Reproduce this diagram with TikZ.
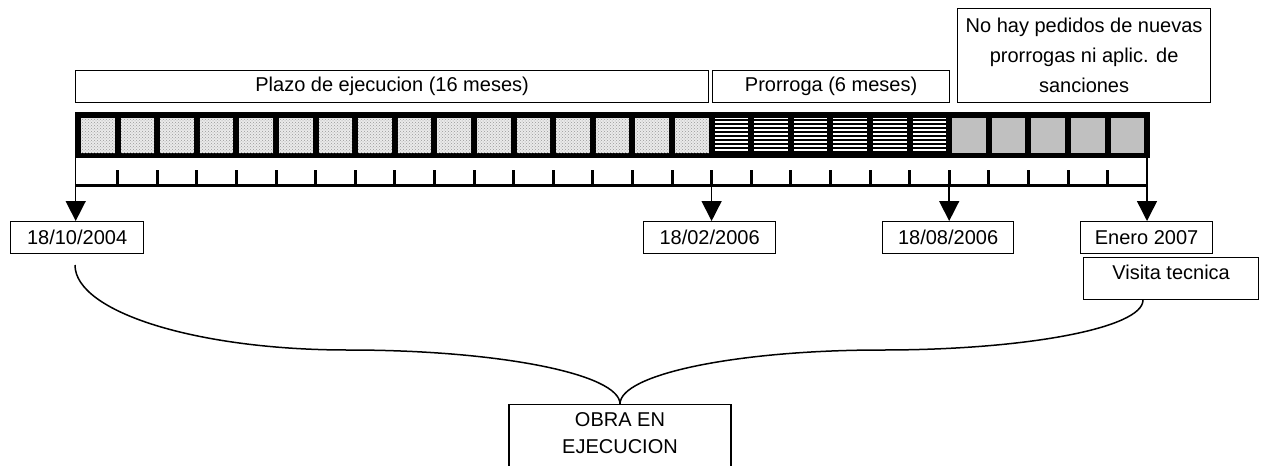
\documentclass[tikz,border=0pt]{standalone}
\usepackage{fontspec}
\setmainfont{Liberation Sans}
\usetikzlibrary{arrows.meta,patterns}
\definecolor{cellgrey}{HTML}{C0C0C0}
\definecolor{dotbg}{HTML}{EAEAEA}
\begin{document}
\begin{tikzpicture}[x=1pt,y=-1pt,
  box/.style={draw, line width=1.2pt, inner sep=0pt, align=center, font=\fontsize{20}{24}\selectfont},
  arr/.style={line width=1.5pt, -{Triangle[length=20pt,width=20pt]}},
  tickmark/.style={line width=3pt},
  thinline/.style={line width=1.5pt},
  brace/.style={line width=1.5pt}]
\useasboundingbox (0,0) rectangle (1262,466);
\clip (0,0) rectangle (1262,466);
% top labels
\node[box, anchor=north west, minimum width=633pt, minimum height=32pt] (plazo) at (75,70) {Plazo de ejecucion (16 meses)};
\node[box, anchor=north west, minimum width=237pt, minimum height=32pt] (prorroga) at (712,70) {Prorroga (6 meses)};
\node[box, anchor=north west, minimum width=253pt, minimum height=94pt, font=\fontsize{20}{30}\selectfont] (nohay) at (957,8) {No hay pedidos de nuevas\\prorrogas ni aplic. de\\sanciones};
% bar
\fill[black] (75,112) rectangle (1150,158);
\foreach \i in {0,...,15} {
  \fill[dotbg] ({81+\i*39.6},118) rectangle ({75+(\i+1)*39.6},153);
  \fill[pattern=crosshatch dots, pattern color=gray!80] ({81+\i*39.6},118) rectangle ({75+(\i+1)*39.6},153);
}
\foreach \i in {16,...,21} {
  \fill[white] ({81+\i*39.6},118) rectangle ({75+(\i+1)*39.6},153);
  \foreach \y in {120,124,...,152}
    \draw[line width=1.5pt] ({81+\i*39.6},\y) -- ({75+(\i+1)*39.6},\y);
}
\foreach \i in {22,...,26}
  \fill[cellgrey] ({81+\i*39.6},118) rectangle ({75+(\i+1)*39.6},153);
% tick row
\draw[line width=3pt] (75,185) -- (1148,185);
\foreach \i in {1,...,26}
  \draw[tickmark] ({78+\i*39.6},170) -- ({78+\i*39.6},185);
% date boxes
\node[box, anchor=north west, minimum width=133pt, minimum height=32pt] (d1) at (10,221) {18/10/2004};
\node[box, anchor=north west, minimum width=132pt, minimum height=32pt] (d2) at (643,221) {18/02/2006};
\node[box, anchor=north west, minimum width=131pt, minimum height=32pt] (d3) at (882,221) {18/08/2006};
\node[box, anchor=north west, minimum width=132pt, minimum height=32pt] (d4) at (1080,221) {Enero 2007};
\node[box, anchor=north west, minimum width=175pt, text height=22pt, text depth=20pt] (visita) at (1083,257) {Visita tecnica};
% arrows
\coordinate (a1) at (75.7,158);
\coordinate (a2) at (711.6,185);
\coordinate (a3) at (949.2,185);
\coordinate (a4) at (1147,158);
\draw[arr] (a1) -- (a1 |- d1.north);
\draw[arr] (a2) -- (a2 |- d2.north);
\draw[arr] (a3) -- (a3 |- d3.north);
\draw[arr] (a4) -- (a4 |- d4.north);
% bottom box
\node[box, anchor=north, minimum width=222pt, inner ysep=8pt, text depth=25pt, font=\fontsize{20}{27}\selectfont] (obra) at (620,404) {OBRA EN\\EJECUCION};
% brace
\coordinate (bl) at (75,265);
\coordinate (br) at (1143,300);
\draw[brace] (bl) .. controls (75,312) and (197,350) .. (348,350) .. controls (499,350) and (620,374) .. (obra.north);
\draw[brace] (br) .. controls (1143,328) and (1026,350) .. (882,350) .. controls (738,350) and (620,374) .. (obra.north);
\end{tikzpicture}
\end{document}
